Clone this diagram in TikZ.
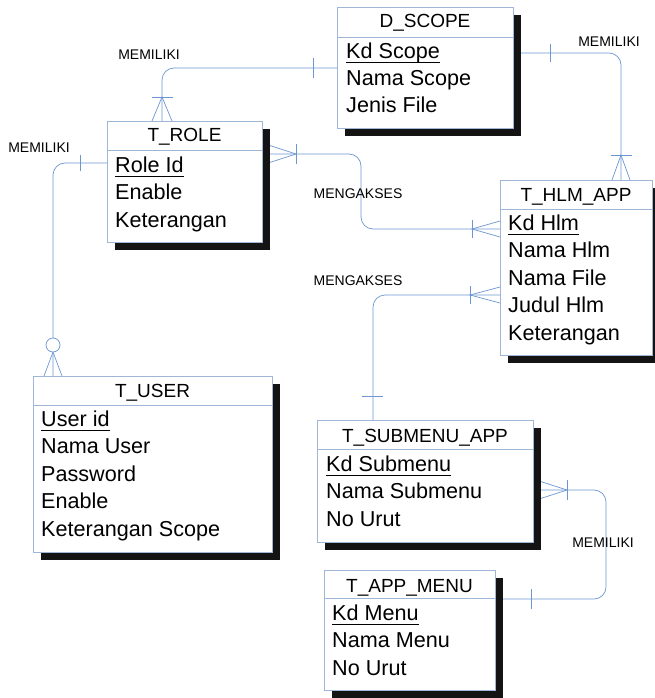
\documentclass[tikz,border=0pt]{standalone}
\usepackage{fontspec}
\setmainfont{Liberation Sans}
\usetikzlibrary{calc,shadows,backgrounds}

\definecolor{relblue}{RGB}{108,150,210}
\definecolor{boxedge}{RGB}{160,182,215}
\definecolor{shadowblack}{RGB}{20,20,20}

% primary key: text with a rule a fixed distance under the baseline
\newcommand{\pkey}[1]{\setbox0=\hbox{#1}\rlap{\rule[-5pt]{\wd0}{1.3pt}}\box0}

\tikzset{
  entity/.style={draw=boxedge, line width=0.7pt, fill=white, anchor=north west,
    inner sep=0pt, outer sep=0pt,
    drop shadow={shadow xshift=8pt, shadow yshift=-8pt, fill=shadowblack, opacity=1}},
  divider/.style={draw=boxedge, line width=0.7pt},
  title/.style={font=\fontsize{19}{22}\selectfont, inner sep=0pt, anchor=base},
  field/.style={font=\fontsize{21.6}{25}\selectfont, inner sep=0pt, anchor=base west},
  rname/.style={font=\fontsize{14}{16}\selectfont, inner sep=0pt},
  rel/.style={draw=relblue, line width=0.7pt, rounded corners=12pt},
  notch/.style={draw=relblue, line width=0.7pt},
}

\begin{document}
\begin{tikzpicture}[x=1pt, y=-1pt]
\useasboundingbox (0,0) rectangle (655,698);

% ---------- entities ----------
\node[entity, minimum width=176pt, minimum height=121pt] (dscope) at (337,7) {};
\draw[divider] ($(dscope.north west)+(0,30)$) -- ($(dscope.north east)+(0,30)$);
\node[title] (dscope-t) at (425,28) {D\_SCOPE};
\node[field] (dscope-1) at (346,58.5) {\pkey{Kd Scope}};
\node[field] (dscope-2) at (346,86) {Nama Scope};
\node[field] (dscope-3) at (346,112.5) {Jenis File};

\node[entity, minimum width=155pt, minimum height=121pt] (trole) at (107,121) {};
\draw[divider] ($(trole.north west)+(0,29)$) -- ($(trole.north east)+(0,29)$);
\node[title] (trole-t) at (184.5,142) {T\_ROLE};
\node[field] (trole-1) at (115,172) {\pkey{Role Id}};
\node[field] (trole-2) at (115,199.5) {Enable};
\node[field] (trole-3) at (115,227) {Keterangan};

\node[entity, minimum width=152pt, minimum height=175pt] (thlm) at (500,180) {};
\draw[divider] ($(thlm.north west)+(0,29)$) -- ($(thlm.north east)+(0,29)$);
\node[title] (thlm-t) at (576,201) {T\_HLM\_APP};
\node[field] (thlm-1) at (508,230) {\pkey{Kd Hlm}};
\node[field] (thlm-2) at (508,257.5) {Nama Hlm};
\node[field] (thlm-3) at (508,285) {Nama File};
\node[field] (thlm-4) at (508,312.5) {Judul Hlm};
\node[field] (thlm-5) at (508,340) {Keterangan};

\node[entity, minimum width=239pt, minimum height=176pt] (tuser) at (33,376) {};
\draw[divider] ($(tuser.north west)+(0,29)$) -- ($(tuser.north east)+(0,29)$);
\node[title] (tuser-t) at (152.5,397) {T\_USER};
\node[field] (tuser-1) at (41,426) {\pkey{User id}};
\node[field] (tuser-2) at (41,453.5) {Nama User};
\node[field] (tuser-3) at (41,481) {Password};
\node[field] (tuser-4) at (41,508.5) {Enable};
\node[field] (tuser-5) at (41,536.5) {Keterangan Scope};

\node[entity, minimum width=216pt, minimum height=122pt] (tsub) at (317,420) {};
\draw[divider] ($(tsub.north west)+(0,29)$) -- ($(tsub.north east)+(0,29)$);
\node[title] (tsub-t) at (425,442) {T\_SUBMENU\_APP};
\node[field] (tsub-1) at (326,471) {\pkey{Kd Submenu}};
\node[field] (tsub-2) at (326,498.5) {Nama Submenu};
\node[field] (tsub-3) at (326,526) {No Urut};

\node[entity, minimum width=171pt, minimum height=120pt] (tapp) at (324,570) {};
\draw[divider] ($(tapp.north west)+(0,28)$) -- ($(tapp.north east)+(0,28)$);
\node[title] (tapp-t) at (409.5,592) {T\_APP\_MENU};
\node[field] (tapp-1) at (332,620) {\pkey{Kd Menu}};
\node[field] (tapp-2) at (332,647.5) {Nama Menu};
\node[field] (tapp-3) at (332,675) {No Urut};

% ---------- relationship names ----------
\node[rname] (lbl-scope-role) at (149,55) {MEMILIKI};
\node[rname] (lbl-scope-hlm) at (609,42) {MEMILIKI};
\node[rname] (lbl-role-user) at (39,148) {MEMILIKI};
\node[rname] (lbl-role-hlm) at (358,194) {MENGAKSES};
\node[rname] (lbl-hlm-sub) at (358,281) {MENGAKSES};
\node[rname] (lbl-sub-app) at (603,543) {MEMILIKI};

% ---------- relationships ----------
\begin{pgfonlayer}{background}
  % D_SCOPE -- T_ROLE
  \coordinate (r1a) at ($(dscope.north west)+(0,61)$);
  \coordinate (r1b) at ($(trole.north west)+(55,0)$);
  \draw[rel] (r1a) -| (r1b);
  \draw[notch] ($(r1a)+(-24,-10)$) -- ($(r1a)+(-24,10)$);
  \draw[notch] ($(r1b)+(-10,0)$) -- ($(r1b)+(0,-24)$) -- ($(r1b)+(10,0)$);
  \draw[notch] ($(r1b)+(-10,-24)$) -- ($(r1b)+(11,-24)$);

  % T_ROLE -- T_HLM_APP
  \coordinate (r2a) at ($(trole.north east)+(0,33)$);
  \coordinate (r2b) at ($(thlm.north west)+(0,49)$);
  \draw[rel] (r2a) -| ($(r2b)+(-139,0)$) -- (r2b);
  \draw[notch] ($(r2a)+(0,-11)$) -- ($(r2a)+(34,0)$) -- ($(r2a)+(0,11)$);
  \draw[notch] ($(r2a)+(34,-10)$) -- ($(r2a)+(34,10)$);
  \draw[notch] ($(r2b)+(0,-8)$) -- ($(r2b)+(-28,0)$) -- ($(r2b)+(0,8)$);
  \draw[notch] ($(r2b)+(-28,-9)$) -- ($(r2b)+(-28,9)$);

  % D_SCOPE -- T_HLM_APP
  \coordinate (r3a) at ($(dscope.north east)+(0,46)$);
  \coordinate (r3b) at ($(thlm.north west)+(121,0)$);
  \draw[rel] (r3a) -| (r3b);
  \draw[notch] ($(r3a)+(37,-9)$) -- ($(r3a)+(37,9)$);
  \draw[notch] ($(r3b)+(-9,0)$) -- ($(r3b)+(0,-25)$) -- ($(r3b)+(9,0)$);
  \draw[notch] ($(r3b)+(-10,-25)$) -- ($(r3b)+(11,-25)$);

  % T_ROLE -- T_USER
  \coordinate (r4a) at ($(trole.north west)+(0,42)$);
  \coordinate (r4b) at ($(tuser.north west)+(20,0)$);
  \draw[rel] (r4a) -| (r4b);
  \draw[notch] ($(r4a)+(-27,-8)$) -- ($(r4a)+(-27,8)$);
  \draw[notch] ($(r4b)+(-9,0)$) -- ($(r4b)+(0,-24)$) -- ($(r4b)+(9,0)$);
  \draw[notch, fill=white] ($(r4b)+(0,-31)$) circle[radius=7pt];

  % T_HLM_APP -- T_SUBMENU_APP
  \coordinate (r5a) at ($(thlm.north west)+(0,115)$);
  \coordinate (r5b) at ($(tsub.north west)+(56,0)$);
  \draw[rel] (r5a) -| (r5b);
  \draw[notch] ($(r5a)+(0,-8)$) -- ($(r5a)+(-30,0)$) -- ($(r5a)+(0,8)$);
  \draw[notch] ($(r5a)+(-30,-9)$) -- ($(r5a)+(-30,9)$);
  \draw[notch] ($(r5b)+(-11,-24)$) -- ($(r5b)+(10,-24)$);

  % T_SUBMENU_APP -- T_APP_MENU
  \coordinate (r6a) at ($(tsub.north east)+(0,70)$);
  \coordinate (r6b) at ($(tapp.north east)+(0,29)$);
  \draw[rel] (r6a) -| ($(r6b)+(111,0)$) -- (r6b);
  \draw[notch] ($(r6a)+(0,-11)$) -- ($(r6a)+(34,0)$) -- ($(r6a)+(0,11)$);
  \draw[notch] ($(r6a)+(34,-10)$) -- ($(r6a)+(34,10)$);
  \draw[notch] ($(r6b)+(36,-10)$) -- ($(r6b)+(36,10)$);
\end{pgfonlayer}
\end{tikzpicture}
\end{document}
